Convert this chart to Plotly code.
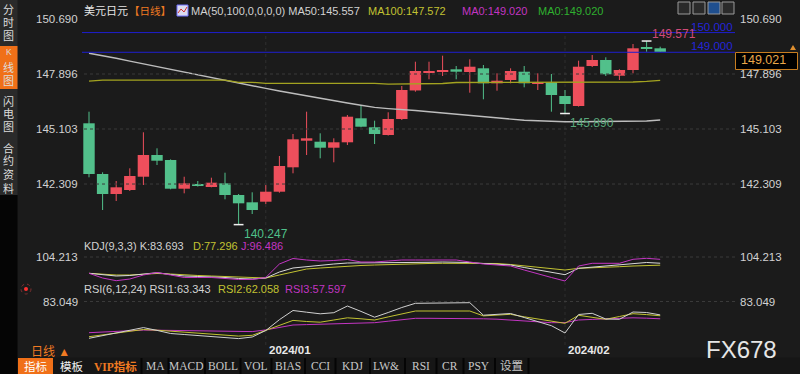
import plotly.graph_objects as go

# ---------------- data ----------------
open_ = [145.393, 142.818, 141.802, 142.005, 142.680, 143.783, 143.529, 142.071, 142.310, 142.157,
         142.345, 141.751, 141.380, 141.411, 141.919, 143.158, 144.509, 144.458, 144.153, 144.428,
         145.647, 145.190, 144.798, 145.611, 147.060, 147.983, 147.998, 148.135, 147.998, 148.186,
         147.424, 147.592, 148.013, 147.404, 147.475, 146.779, 146.271, 148.303, 148.608, 147.810,
         148.100, 149.232, 149.202]
close = [142.818, 141.802, 142.142, 142.716, 143.783, 143.493, 142.071, 142.345, 142.208, 142.376,
         141.751, 141.329, 140.989, 141.919, 143.224, 144.580, 144.631, 144.153, 144.428, 145.728,
         145.220, 144.849, 145.611, 147.084, 148.049, 148.049, 148.100, 148.013, 148.267, 147.424,
         147.556, 148.049, 147.424, 147.475, 146.830, 146.373, 148.267, 148.608, 147.881, 148.100,
         149.202, 149.182, 149.021]
high = [145.982, 142.904, 142.462, 143.107, 144.936, 144.123, 143.560, 142.680, 142.462, 142.630,
        142.884, 141.802, 141.888, 142.259, 143.732, 144.849, 145.982, 144.885, 144.631, 145.814,
        146.322, 145.525, 145.951, 147.287, 148.521, 148.521, 148.826, 148.303, 148.643, 148.354,
        147.932, 148.186, 148.303, 147.932, 147.897, 147.084, 148.572, 148.862, 148.745, 148.135,
        149.420, 149.571, 149.283]
low = [142.650, 140.989, 141.446, 141.955, 142.259, 143.275, 142.040, 141.837, 142.180, 142.142,
       141.532, 140.247, 140.786, 141.294, 141.868, 142.853, 143.783, 143.615, 143.412, 144.290,
       145.190, 144.341, 144.770, 145.560, 146.998, 147.627, 147.795, 147.627, 146.947, 146.612,
       147.048, 147.424, 147.221, 147.084, 145.982, 145.890, 146.240, 148.250, 147.795, 147.592,
       147.932, 149.029, 149.020]

ma50 = [148.948, 148.836, 148.694, 148.552, 148.410, 148.267, 148.125, 147.983, 147.841, 147.698,
        147.556, 147.424, 147.292, 147.165, 147.033, 146.906, 146.774, 146.657, 146.540, 146.424,
        146.312, 146.200, 146.139, 146.109, 146.043, 145.982, 145.921, 145.865, 145.804, 145.733,
        145.667, 145.596, 145.545, 145.520, 145.489, 145.474, 145.474, 145.474, 145.474, 145.474,
        145.484, 145.510, 145.557]
ma100 = [147.530] + [147.590] * 10 + [147.475] * 2 + [147.424] * 9 + [147.380] * 3 + \
        [147.414] * 2 + [147.465] * 13 + [147.490, 147.520, 147.572]

kdj_k = [50.4, 44.8, 41.5, 43.2, 48.1, 52.4, 46.5, 41.5, 39.9, 39.2, 36.6, 33.3, 31.6, 34.9, 54.7,
         67.9, 72.9, 76.2, 81.1, 84.4, 84.4, 84.4, 84.4, 85.4, 86.1, 86.7, 87.7, 87.7, 86.1, 82.8,
         81.1, 77.8, 69.6, 61.3, 53.1, 45.8, 66.9, 71.2, 74.5, 77.8, 82.8, 86.1, 83.693]
kdj_d = [50.4, 46.5, 44.8, 44.8, 46.5, 49.8, 48.1, 44.8, 43.2, 41.5, 39.9, 36.6, 34.9, 34.9, 44.8,
         54.7, 64.6, 67.9, 71.2, 74.5, 76.2, 77.8, 79.5, 81.1, 81.8, 82.8, 83.4, 83.4, 83.4, 82.8,
         82.8, 79.5, 74.5, 71.2, 66.3, 61.3, 66.9, 67.9, 69.6, 72.2, 74.5, 76.2, 77.296]
kdj_j = [50.4, 34.9, 26.0, 31.6, 44.8, 53.1, 44.8, 36.6, 36.6, 36.6, 33.3, 30.0, 30.0, 36.6, 81.1,
         99.3, 94.3, 91.0, 92.7, 96.0, 87.7, 87.7, 91.0, 94.3, 94.3, 94.3, 94.3, 94.3, 87.7, 81.1,
         77.8, 74.5, 61.3, 48.1, 36.6, 25.0, 74.5, 83.4, 83.4, 83.4, 96.6, 99.9, 96.486]

rsi1 = [28.95, 33.07, 36.89, 40.71, 44.68, 40.57, 36.01, 34.54, 33.07, 31.45, 29.98, 28.51, 30.86,
        40.42, 56.30, 69.82, 67.32, 64.97, 66.59, 76.43, 68.50, 59.97, 66.88, 74.23, 80.40, 80.40,
        80.40, 80.40, 81.29, 62.91, 64.67, 65.41, 59.53, 53.65, 47.48, 36.74, 63.94, 65.70, 57.32,
        56.88, 67.61, 66.88, 63.343]
rsi2 = [31.31, 34.10, 36.74, 39.24, 41.89, 40.86, 39.54, 38.07, 36.60, 35.13, 33.66, 32.19, 33.36,
        40.71, 47.92, 55.27, 53.65, 52.62, 55.85, 59.09, 57.62, 55.85, 60.41, 65.12, 69.08, 69.08,
        69.08, 69.08, 69.08, 61.88, 62.76, 64.23, 60.56, 57.32, 54.09, 51.00, 62.76, 59.68, 56.88,
        61.00, 65.12, 63.79, 62.058]
rsi3 = [37.19, 38.21, 39.10, 39.98, 41.01, 40.86, 40.57, 40.27, 39.98, 39.68, 39.39, 39.10, 38.80,
        41.30, 44.83, 48.50, 49.09, 49.68, 50.12, 50.71, 51.30, 51.89, 54.09, 56.44, 58.35, 58.35,
        58.35, 58.35, 57.91, 57.62, 57.03, 55.85, 54.53, 53.21, 51.89, 52.03, 55.85, 56.74, 57.62,
        58.50, 59.09, 58.50, 57.597]

price_ticks = [150.690, 147.896, 145.103, 142.309]
kdj_tick = 104.213
rsi_tick = 83.049
level_lines = [150.000, 149.000]
last_price = 149.021
date_ticks = [(13, "2024/01"), (35, "2024/02")]
extremes = [(11, 140.247, "low"), (35, 145.890, "low"), (41, 149.571, "high")]

# ---------------- styling ----------------
W, H = 800, 374
BG = "#1b1b1b"
RED = "#ee4f5c"
GREEN = "#52c08b"
GREY = "#d2d2d2"
YEL = "#c2c232"
MAG = "#c235c2"
FONT = "Liberation Sans, Noto Sans CJK SC"


def px(x):
    return x / W


def py(y):
    return 1 - y / H


n = len(open_)
idx = list(range(n))

fig = go.Figure()

# wicks
for is_up, col in [(True, RED), (False, GREEN)]:
    wx, wy = [], []
    for i in idx:
        if (close[i] >= open_[i]) == is_up:
            wx += [i, i, None]
            wy += [low[i], high[i], None]
    fig.add_trace(go.Scatter(x=wx, y=wy, mode="lines", line=dict(color=col, width=1),
                             hoverinfo="skip"))

# bodies
body_h = [max(abs(c - o), 0.05) for o, c in zip(open_, close)]
body_b = [min(o, c) for o, c in zip(open_, close)]
body_c = [RED if c >= o else GREEN for o, c in zip(open_, close)]
fig.add_trace(go.Bar(x=idx, y=body_h, base=body_b, width=0.84,
                     marker=dict(color=body_c, line=dict(width=0))))

# moving averages
fig.add_trace(go.Scatter(x=idx, y=ma50, mode="lines", line=dict(color="#bdbdbd", width=1.4)))
fig.add_trace(go.Scatter(x=idx, y=ma100, mode="lines", line=dict(color="#a3a320", width=1.3)))

# extreme markers
fig.add_trace(go.Scatter(x=[e[0] for e in extremes], y=[e[1] for e in extremes], mode="markers",
                         marker=dict(symbol="line-ew", size=7, line=dict(color="#f0f0f0", width=1.5))))

# KDJ
for arr, col in [(kdj_d, YEL), (kdj_k, "#d8d8d8"), (kdj_j, MAG)]:
    fig.add_trace(go.Scatter(x=idx, y=arr, mode="lines", line=dict(color=col, width=1), yaxis="y2"))
# RSI
for arr, col in [(rsi3, MAG), (rsi2, YEL), (rsi1, "#d0d0d0")]:
    fig.add_trace(go.Scatter(x=idx, y=arr, mode="lines", line=dict(color=col, width=1), yaxis="y3"))

# ---------------- axes ----------------
x0 = -89 / 13.6
x1 = (W - 89) / 13.6
price_px = 19.69
p_top = price_ticks[0] + 19 / price_px
p_bot = price_ticks[0] - (H - 19) / price_px
k_scale = 3.3
k_top = kdj_tick + 257 * k_scale
k_bot = kdj_tick - (H - 257) * k_scale
r_scale = 1.47
r_top = rsi_tick + 301.5 * r_scale
r_bot = rsi_tick - (H - 301.5) * r_scale

shapes = []
ann = []

# grid lines
for v in price_ticks[1:]:
    shapes.append(dict(type="line", xref="paper", yref="y", x0=px(84), x1=px(735), y0=v, y1=v,
                       line=dict(color="#3a3a3a", width=1, dash="dot")))
shapes.append(dict(type="line", xref="paper", yref="y2", x0=px(84), x1=px(735), y0=kdj_tick, y1=kdj_tick,
                   line=dict(color="#3a3a3a", width=1, dash="dot")))
shapes.append(dict(type="line", xref="paper", yref="y3", x0=px(84), x1=px(735), y0=rsi_tick, y1=rsi_tick,
                   line=dict(color="#3a3a3a", width=1, dash="dot")))
for di, dl in date_ticks:
    shapes.append(dict(type="line", xref="x", yref="paper", x0=di, x1=di, y0=py(345), y1=py(35),
                       line=dict(color="#2f2f2f", width=1, dash="dot"), layer="below"))
    ann.append(dict(x=di, y=py(350), xref="x", yref="paper", text="<b>%s</b>" % dl, showarrow=False,
                    xanchor="left", yanchor="middle", xshift=1,
                    font=dict(family=FONT, size=11.5, color="#e8e8e8")))

# blue level lines
for v in level_lines:
    shapes.append(dict(type="line", xref="paper", yref="y", x0=px(82), x1=px(735), y0=v, y1=v,
                       line=dict(color="#1e1ed0", width=1)))
    ann.append(dict(x=px(735), y=v, xref="paper", yref="y", text="%.3f" % v, showarrow=False,
                    xanchor="right", yanchor="bottom", yshift=-2,
                    font=dict(family=FONT, size=11.5, color="#2525d8")))

# axis labels
for v in price_ticks:
    for xx, anc in [(80, "right"), (738, "left")]:
        ann.append(dict(x=px(xx), y=v, xref="paper", yref="y", text="%.3f" % v, showarrow=False,
                        xanchor=anc, yanchor="middle", font=dict(family=FONT, size=11.5, color=GREY)))
for v, ya in [(kdj_tick, "y2"), (rsi_tick, "y3")]:
    for xx, anc in [(80, "right"), (738, "left")]:
        ann.append(dict(x=px(xx), y=v, xref="paper", yref=ya, text="%.3f" % v, showarrow=False,
                        xanchor=anc, yanchor="middle", font=dict(family=FONT, size=11.5, color=GREY)))

# extreme labels
for i, v, kind in extremes:
    if kind == "high":
        col = "#d04a78"
    elif v < 141:
        col = "#4fc08a"
    else:
        col = "#5aa97c"
    ann.append(dict(x=i, y=v, xref="x", yref="y", text="%.3f" % v, showarrow=False, xanchor="left",
                    yanchor="top" if kind == "low" else "bottom", xshift=3,
                    yshift=0 if kind == "low" else -2,
                    font=dict(family=FONT, size=12, color=col)))

# last price box
shapes.append(dict(type="rect", xref="paper", yref="paper", x0=px(735.5), x1=px(797.5), y0=py(69.5),
                   y1=py(52.5), fillcolor="#000000", line=dict(color="#c87d20", width=1)))
ann.append(dict(x=px(739), y=last_price, xref="paper", yref="y", text="%.3f" % last_price, showarrow=False,
                xanchor="left", yanchor="middle", yshift=-8,
                font=dict(family=FONT, size=12.5, color="#eaa84a")))
shapes.append(dict(type="path", xref="paper", yref="paper",
                   path="M %f %f L %f %f L %f %f Z" % (px(790), py(50), px(796), py(50), px(793), py(45)),
                   fillcolor="#e09030", line=dict(width=0)))


# header
def head(x, text, color, size=11):
    ann.append(dict(x=px(x), y=py(10.5), xref="paper", yref="paper", text=text, showarrow=False,
                    xanchor="left", yanchor="middle", font=dict(family=FONT, size=size, color=color)))


head(82, "美元日元", "#e6e6e6", 11)
head(127, "【日线】", "#f07a22", 10.5)
head(189, "MA(50,100,0,0,0,0) MA50:145.557", GREY, 11)
head(366, "MA100:147.572", YEL, 11)
head(460, "MA0:149.020", MAG, 11)
head(536, "MA0:149.020", "#2fb02f", 11)
shapes.append(dict(type="rect", xref="paper", yref="paper", x0=px(177), x1=px(188), y0=py(16), y1=py(5),
                   fillcolor="#dcdcf0", line=dict(color="#7070ff", width=1)))
shapes.append(dict(type="path", xref="paper", yref="paper",
                   path="M %f %f L %f %f L %f %f L %f %f" % (px(178), py(13), px(181), py(9), px(184), py(12), px(187), py(7)),
                   line=dict(color="#d03030", width=1)))
for k, x in enumerate([678, 693, 708, 722]):
    shapes.append(dict(type="rect", xref="paper", yref="paper", x0=px(x), x1=px(x + 12), y0=py(14), y1=py(2),
                       fillcolor="#1f4f8f" if k == 2 else "#2a2a2a",
                       line=dict(color="#9a9a9a", width=1)))


# indicator labels
def lab(x, y, text, color):
    ann.append(dict(x=px(x), y=py(y), xref="paper", yref="paper", text=text, showarrow=False,
                    xanchor="left", yanchor="middle", font=dict(family=FONT, size=11, color=color)))


lab(82, 246, "KDJ(9,3,3) K:83.693", GREY)
lab(191, 246, "D:77.296", YEL)
lab(239, 246, "J:96.486", MAG)
lab(82, 289, "RSI(6,12,24) RSI1:63.343", GREY)
lab(216, 289, "RSI2:62.058", YEL)
lab(283, 289, "RSI3:57.597", MAG)

# red dot icon
shapes.append(dict(type="circle", xref="paper", yref="paper", x0=px(21), x1=px(31), y0=py(294), y1=py(284),
                   line=dict(color="#803030", width=1, dash="dot")))
shapes.append(dict(type="circle", xref="paper", yref="paper", x0=px(24), x1=px(28), y0=py(291), y1=py(287),
                   fillcolor="#ff3030", line=dict(width=0)))

# left sidebar
shapes.append(dict(type="rect", xref="paper", yref="paper", x0=0, x1=px(17.5), y0=py(195), y1=1,
                   fillcolor="#2a2a2a", line=dict(width=0), layer="above"))
shapes.append(dict(type="rect", xref="paper", yref="paper", x0=0, x1=px(17.5), y0=0, y1=py(195),
                   fillcolor="#050505", line=dict(width=0), layer="above"))
shapes.append(dict(type="rect", xref="paper", yref="paper", x0=0, x1=px(17.5), y0=py(89), y1=py(46),
                   fillcolor="#f07018", line=dict(width=0), layer="above"))
side = [("分", 10), ("时", 23), ("图", 36), ("K", 52), ("线", 67), ("图", 81), ("闪", 101), ("电", 114),
        ("图", 127), ("合", 148), ("约", 161), ("资", 175), ("料", 188)]
for ch, y in side:
    ann.append(dict(x=px(8.5), y=py(y), xref="paper", yref="paper", text=ch, showarrow=False,
                    xanchor="center", yanchor="middle", height=12,
                    font=dict(family=FONT, size=11 if ch != "K" else 8.5, color="#dcdcdc")))

# bottom toolbar
shapes.append(dict(type="rect", xref="paper", yref="paper", x0=px(17.5), x1=1, y0=0, y1=py(357.5),
                   fillcolor="#161616", line=dict(width=0)))
shapes.append(dict(type="rect", xref="paper", yref="paper", x0=px(18), x1=px(53), y0=0, y1=py(358),
                   fillcolor="#f07018", line=dict(width=0)))
for sx in [141.5, 168.5, 205, 240.5, 271.5, 305, 335.5, 370, 405, 436.5, 463.5, 495, 528.5]:
    shapes.append(dict(type="line", xref="paper", yref="paper", x0=px(sx), x1=px(sx), y0=0, y1=py(358),
                       line=dict(color="#050505", width=2)))
tabs = [("指标", 35.5, "#ffffff"), ("模板", 72, "#f0f0f0"), ("<b>VIP指标</b>", 116, "#f07a22"),
        ("MA", 155, "#c8c8c8"), ("MACD", 186.5, "#c8c8c8"), ("BOLL", 222.5, "#c8c8c8"),
        ("VOL", 256, "#c8c8c8"), ("BIAS", 288, "#c8c8c8"), ("CCI", 320, "#c8c8c8"),
        ("KDJ", 352.5, "#c8c8c8"), ("LW&", 386, "#c8c8c8"), ("RSI", 420.5, "#c8c8c8"),
        ("CR", 449.5, "#c8c8c8"), ("PSY", 479, "#c8c8c8"), ("设置", 511.5, "#c8c8c8")]
for t, x, c in tabs:
    ann.append(dict(x=px(x), y=py(366), xref="paper", yref="paper", text=t, showarrow=False,
                    xanchor="center", yanchor="middle",
                    font=dict(family="Liberation Serif, Noto Sans CJK SC", size=11.5, color=c)))

ann.append(dict(x=px(29), y=py(352), xref="paper", yref="paper", text="日线 ▲", showarrow=False,
                xanchor="left", yanchor="middle", font=dict(family=FONT, size=12, color="#f07a22")))
ann.append(dict(x=px(741), y=py(349), xref="paper", yref="paper", text="FX678", showarrow=False,
                xanchor="center", yanchor="middle", font=dict(family=FONT, size=24, color="#e6e6e6")))

fig.update_layout(
    width=W, height=H, margin=dict(l=0, r=0, t=0, b=0),
    paper_bgcolor=BG, plot_bgcolor=BG, showlegend=False,
    xaxis=dict(range=[x0, x1], visible=False, fixedrange=True),
    yaxis=dict(range=[p_bot, p_top], visible=False, fixedrange=True),
    yaxis2=dict(range=[k_bot, k_top], overlaying="y", visible=False, fixedrange=True),
    yaxis3=dict(range=[r_bot, r_top], overlaying="y", visible=False, fixedrange=True),
    shapes=shapes, annotations=ann, barmode="overlay",
)

fig.write_html("out.html")
